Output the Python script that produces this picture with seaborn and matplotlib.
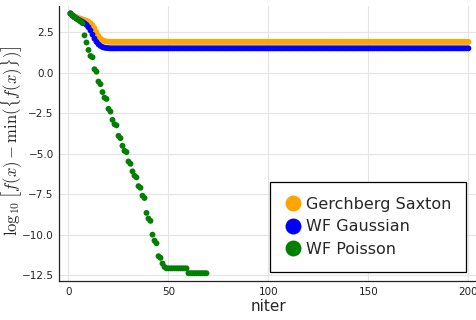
import matplotlib
matplotlib.use("Agg")
import matplotlib.pyplot as plt
from matplotlib.ticker import MultipleLocator
import seaborn as sns
import pandas as pd

# values (log10 of objective gap per iteration)
gs_head = [3.65, 3.55, 3.48, 3.42, 3.37, 3.33, 3.29, 3.25, 3.20, 3.14,
           3.05, 2.93, 2.75, 2.50, 2.27, 2.10, 2.00, 1.95, 1.92, 1.91]
gs_tail = [1.90] * 180
wfg_head = [3.65, 3.52, 3.42, 3.34, 3.27, 3.20, 3.13, 3.05, 2.95, 2.80,
            2.60, 2.35, 2.10, 1.90, 1.75, 1.65, 1.58, 1.54, 1.52, 1.51]
wfg_tail = [1.50] * 180
wfp_head = [3.65, 3.52, 3.42, 3.33, 3.25, 3.15, 3.05, 2.30, 1.86, 1.40,
            1.03, 0.95, 0.21, 0.06, -0.55, -0.71, -1.20, -1.54, -1.62, -2.23,
            -2.40, -2.91, -3.18, -3.25, -3.90, -4.04, -4.51, -4.82, -4.90, -5.48,
            -5.62, -6.09, -6.36, -6.46, -7.00, -7.10, -7.59, -7.73, -8.65, -9.00,
            -9.14, -9.99, -10.36, -10.52, -11.32, -11.42, -11.77, -11.98]
wfp_tail = [-12.07] * 11 + [-12.37] * 10

series = {
    "Gerchberg Saxton": gs_head + gs_tail,
    "WF Gaussian": wfg_head + wfg_tail,
    "WF Poisson": wfp_head + wfp_tail,
}
colors = {"Gerchberg Saxton": "#FFA500", "WF Gaussian": "#0000FF", "WF Poisson": "#008000"}

frames = []
for name, vals in series.items():
    frames.append(pd.DataFrame({"niter": range(1, len(vals) + 1), "val": vals, "method": name}))
df = pd.concat(frames, ignore_index=True)

sns.set_style("white")
plt.rcParams["mathtext.fontset"] = "cm"

fig = plt.figure(figsize=(4.77, 3.2), dpi=100)
ax = fig.add_axes([59.3 / 477, 39 / 320, 417.7 / 477, 275.3 / 320])

sns.scatterplot(data=df, x="niter", y="val", hue="method", palette=colors,
                s=18, linewidth=0, ax=ax)

ax.set_xlim(-4.6, 204.3)
ax.set_ylim(-12.85, 4.13)
ax.xaxis.set_major_locator(MultipleLocator(50))
ax.yaxis.set_major_locator(MultipleLocator(2.5))
ax.grid(True, color="#e4e4e4", linewidth=0.8)
ax.set_axisbelow(True)
for side in ["top", "right"]:
    ax.spines[side].set_visible(False)
for side in ["left", "bottom"]:
    ax.spines[side].set_color("#222222")
    ax.spines[side].set_linewidth(0.9)
ax.tick_params(direction="in", length=3, width=0.8, labelsize=7.5,
               colors="#222222", pad=4)

ax.set_xlabel("niter", fontsize=11)
ax.xaxis.set_label_coords(0.5, -0.065)
ax.set_ylabel(r"$\log_{10}\left[f(x) - \min(\{f(x)\})\right]$", fontsize=12)
ax.yaxis.set_label_coords(-0.083, 0.51)

handles, labels = ax.get_legend_handles_labels()
ax.legend(handles, labels, loc="lower right", bbox_to_anchor=(0.974, 0.033),
          borderaxespad=0, markerscale=2.7, fontsize=11.5, frameon=True,
          fancybox=False, edgecolor="black", framealpha=1,
          handlelength=1.0, handletextpad=0.3, labelspacing=0.47, borderpad=0.95)
ax.get_legend().get_frame().set_linewidth(0.9)

fig.savefig("out.png", dpi=100)
